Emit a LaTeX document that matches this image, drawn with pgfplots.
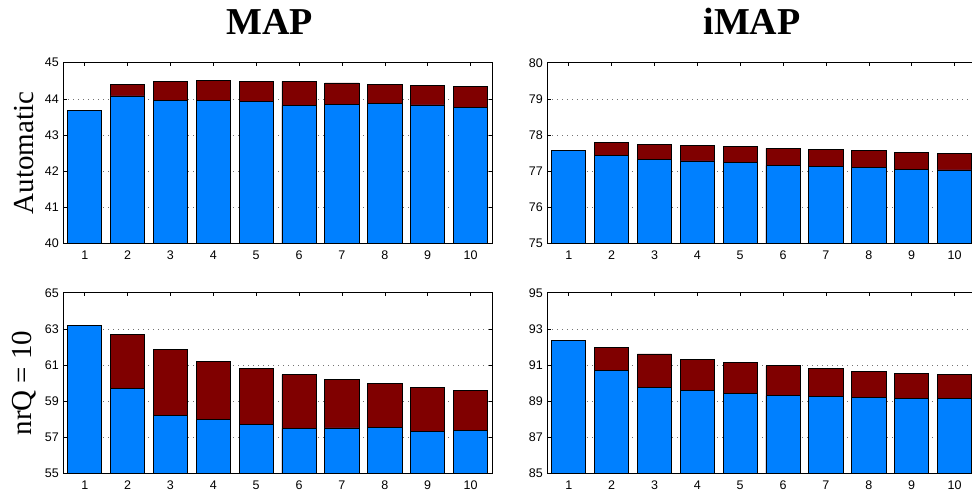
\documentclass[border=0pt]{standalone}
\usepackage{pgfplots}
\pgfplotsset{compat=1.18}
\usepackage{fontspec}
\setmainfont{Liberation Sans}
\newfontfamily\serifb{Liberation Serif}
\definecolor{mblue}{RGB}{0,128,255}
\definecolor{mred}{RGB}{128,0,0}
\pgfplotsset{
 panel/.style={
  scale only axis, width=428.7pt, height=180.6pt,
  xmin=0.5, xmax=10.5, xtick={1,...,10},
  tick align=inside, major tick length=3.5pt,
  ymajorgrids, grid style={black!55, line width=0.6pt, dash pattern=on 0.6pt off 4.4pt},
  axis line style={line width=0.8pt},
  every tick/.style={black, line width=0.6pt},
  /pgf/number format/assume math mode=true,
  xticklabel={\pgfmathprintnumber{\tick}},
  yticklabel={\pgfmathprintnumber{\tick}},
  every tick label/.style={font=\fontsize{12.5}{15}\selectfont},
  xticklabel style={yshift=-4pt},
  yticklabel style={xshift=-1pt},
  every axis title/.style={font=\serifb\bfseries\fontsize{38}{40}\selectfont, anchor=base},
  ylabel style={font=\serifb\fontsize{29}{32}\selectfont, at={(axis description cs:-0.0917,0.5)}, anchor=center},
 },
 rbar/.style={ybar, bar shift=0pt, bar width=0.8, fill=mred, draw=black, line width=0.8pt},
 bbar/.style={ybar, bar shift=0pt, bar width=0.8, fill=mblue, draw=black, line width=0.8pt},
}
\begin{document}
\begin{tikzpicture}[x=1pt,y=1pt]
\useasboundingbox (0,0) rectangle (972,-493);
% ---- top left: MAP, Automatic
\begin{axis}[panel, at={(63.3pt,-243.3pt)}, anchor=south west,
  ymin=40, ymax=45, ytick={40,41,42,43,44,45},
  title={MAP}, title style={at={(axis description cs:0.482,1.158)}},
  ylabel={Automatic}]
\addplot[rbar] coordinates {(2,44.39) (3,44.47) (4,44.50) (5,44.49) (6,44.48) (7,44.44) (8,44.39) (9,44.37) (10,44.34)};
\addplot[bbar] coordinates {(1,43.68) (2,44.08) (3,43.96) (4,43.96) (5,43.93) (6,43.81) (7,43.84) (8,43.88) (9,43.83) (10,43.76)};
\end{axis}
% ---- top right: iMAP, Automatic
\begin{axis}[panel, at={(547.3pt,-243.3pt)}, anchor=south west,
  ymin=75, ymax=80, ytick={75,76,77,78,79,80},
  title={iMAP}, title style={at={(axis description cs:0.4775,1.158)}}]
\addplot[rbar] coordinates {(2,77.78) (3,77.73) (4,77.72) (5,77.69) (6,77.63) (7,77.59) (8,77.57) (9,77.52) (10,77.49)};
\addplot[bbar] coordinates {(1,77.56) (2,77.44) (3,77.32) (4,77.28) (5,77.23) (6,77.15) (7,77.13) (8,77.09) (9,77.04) (10,77.03)};
\end{axis}
% ---- bottom left: MAP, nrQ = 10
\begin{axis}[panel, at={(63.3pt,-473.3pt)}, anchor=south west,
  ymin=55, ymax=65, ytick={55,57,59,61,63,65},
  ylabel={nrQ = 10}]
\addplot[rbar] coordinates {(2,62.68) (3,61.85) (4,61.21) (5,60.80) (6,60.47) (7,60.19) (8,59.97) (9,59.75) (10,59.59)};
\addplot[bbar] coordinates {(1,63.18) (2,59.71) (3,58.20) (4,57.99) (5,57.71) (6,57.47) (7,57.51) (8,57.54) (9,57.34) (10,57.36)};
\end{axis}
% ---- bottom right: iMAP, nrQ = 10
\begin{axis}[panel, at={(547.3pt,-473.3pt)}, anchor=south west,
  ymin=85, ymax=95, ytick={85,87,89,91,93,95}]
\addplot[rbar] coordinates {(2,91.98) (3,91.61) (4,91.32) (5,91.13) (6,90.95) (7,90.80) (8,90.65) (9,90.54) (10,90.47)};
\addplot[bbar] coordinates {(1,92.35) (2,90.71) (3,89.73) (4,89.60) (5,89.42) (6,89.29) (7,89.24) (8,89.18) (9,89.13) (10,89.13)};
\end{axis}
\end{tikzpicture}
\end{document}
